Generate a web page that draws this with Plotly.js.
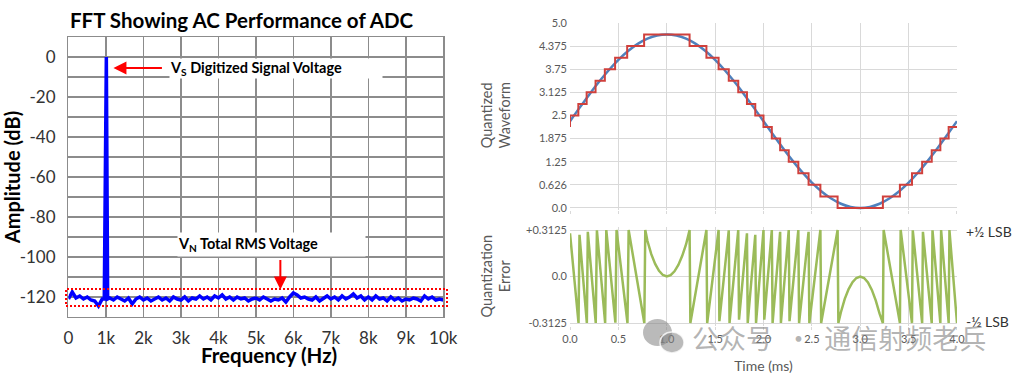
<!DOCTYPE html>
<html><head><meta charset="utf-8">
<script src="https://cdn.plot.ly/plotly-3.0.1.min.js"></script>
<style>html,body{margin:0;padding:0;background:#fff;} #chart{width:1013px;height:378px;}</style>
</head><body><div id="chart"></div>
<script>
// ---------- FFT (left) ----------
const fftFreqHz = [0,100,200,300,400,500,600,700,800,900,955,990,1010,1045,
  1100,1200,1300,1400,1500,1600,1700,1800,1900,2000,2100,2200,2300,2400,2500,2600,2700,2800,2900,3000,
  3100,3200,3300,3400,3500,3600,3700,3800,3900,4000,4100,4200,4300,4400,4500,4600,4700,4800,4900,5000,
  5100,5200,5300,5400,5500,5600,5700,5800,5900,6000,6100,6200,6300,6400,6500,6600,6700,6800,6900,7000,
  7100,7200,7300,7400,7500,7600,7700,7800,7900,8000,8100,8200,8300,8400,8500,8600,8700,8800,8900,9000,
  9100,9200,9300,9400,9500,9600,9700,9800,9900,10000];
const fftAmpDb = [-121,-117.5,-120.5,-119.5,-121,-120,-121.5,-122,-124.5,-121,-121,0,0,-121,
  -120.5,-121.5,-120,-121,-122,-120.5,-123.5,-121,-120,-121.5,-120.5,-122,-121,-120,-121.5,-120.5,-122,-120,-121,-121.5,
  -120,-122,-120.5,-121,-119.5,-121,-120,-121.5,-119.5,-120.5,-119,-121,-120,-121.5,-120,-121,-120.5,-122,-121,-120.5,
  -121.5,-120,-121,-122,-121,-121.5,-120.5,-122.5,-120,-118,-119,-120.5,-120,-121,-121.5,-120,-122,-120.5,-119.5,-121,
  -120,-121.5,-119.5,-121,-120,-118.5,-120.5,-119.5,-121.5,-120,-121.5,-119.5,-121,-120.5,-122,-120,-121.5,-120.5,-122,-121,
  -121.5,-120.5,-121,-122,-119.5,-121,-120,-121.5,-121,-121.5];
const fftTickVals = [0,1000,2000,3000,4000,5000,6000,7000,8000,9000,10000];
const fftTickText = ['0','1k','2k','3k','4k','5k','6k','7k','8k','9k','10k'];
const dbTickVals = [-130,-120,-110,-100,-90,-80,-70,-60,-50,-40,-30,-20,-10,0,10];
const dbTickText = ['','-120','','-100','','-80','','-60','','-40','','-20','','0',''];

// ---------- Quantized waveform (top right) ----------
const sineT = [0,0.1,0.2,0.3,0.4,0.5,0.6,0.7,0.8,0.9,1.0,1.1,1.2,1.3,1.4,1.5,1.6,1.7,1.8,1.9,2.0,
  2.1,2.2,2.3,2.4,2.5,2.6,2.7,2.8,2.9,3.0,3.1,3.2,3.3,3.4,3.5,3.6,3.7,3.8,3.9,4.0];
const sineV = [2.345,2.712,3.070,3.410,3.723,4.003,4.242,4.434,4.575,4.661,4.690,4.661,4.575,4.434,4.242,4.003,3.723,3.410,3.070,2.712,2.345,
  1.978,1.620,1.280,0.967,0.687,0.448,0.256,0.115,0.029,0.000,0.029,0.115,0.256,0.448,0.687,0.967,1.280,1.620,1.978,2.345];
const stepT = [0,0,0.086,0.172,0.264,0.360,0.466,0.591,0.766,1.236,1.410,1.536,1.641,1.739,1.829,1.915,2.000,2.086,2.172,2.261,2.360,2.466,2.588,2.766,
  3.234,3.410,3.535,3.640,3.739,3.828,3.914,4.0];
const stepV = [2.1875,2.5,2.8125,3.125,3.4375,3.75,4.0625,4.375,4.6875,4.375,4.0625,3.75,3.4375,3.125,2.8125,2.5,2.1875,1.875,1.5625,1.25,0.9375,0.625,0.3125,0,
  0.3125,0.625,0.9375,1.25,1.5625,1.875,2.1875,2.1875];
const waveTickVals = [0,0.625,1.25,1.875,2.5,3.125,3.75,4.375,5.0];
const waveTickText = ['0.0','0.626','1.25','1.875','2.5','3.125','3.75','4.375','5.0'];

// ---------- Quantization error (bottom right) ----------
const errT = [0.000,0.088,0.098,0.174,0.184,0.266,0.278,0.363,0.375,0.469,0.481,0.594,0.606,0.768,0.778,
  0.80,0.84,0.88,0.92,0.96,1.00,1.04,1.08,1.12,1.16,1.20,1.236,
  1.244,1.410,1.418,1.536,1.544,1.641,1.649,1.739,1.747,1.829,1.837,1.915,1.923,2.000,2.008,2.086,2.094,2.172,2.180,
  2.261,2.269,2.360,2.368,2.466,2.474,2.588,2.596,2.766,2.774,
  2.80,2.84,2.88,2.92,2.96,3.00,3.04,3.08,3.12,3.16,3.20,3.234,
  3.242,3.410,3.418,3.535,3.543,3.640,3.648,3.739,3.747,3.828,3.836,3.914,3.922,4.000];
const errV = [0.29,-0.3125,0.28,-0.3125,0.30,-0.3125,0.31,-0.3125,0.3125,-0.31,0.3125,-0.3125,0.3125,-0.3125,0.3125,
  0.24,0.15,0.085,0.038,0.01,0.0,0.009,0.035,0.078,0.139,0.217,0.3125,
  -0.3125,0.3125,-0.3125,0.3125,-0.30,0.31,-0.3125,0.3125,-0.29,0.29,-0.3125,0.28,-0.3125,0.3125,-0.29,0.3125,-0.3125,0.30,-0.3125,
  0.3125,-0.30,0.3125,-0.3125,0.30,-0.3125,0.3125,-0.3125,0.3125,-0.3125,
  -0.24,-0.15,-0.085,-0.038,-0.01,0.0,-0.01,-0.04,-0.09,-0.16,-0.25,-0.3125,
  0.3125,-0.3125,0.3125,-0.3125,0.31,-0.3125,0.30,-0.3125,0.31,-0.3125,0.3125,-0.3125,0.3125,-0.3125];
const timeTickVals = [0,0.5,1.0,1.5,2.0,2.5,3.0,3.5,4.0];
const timeTickText = ['0.0','0.5','1.0','1.5','2.0','2.5','3.0','3.5','4.0'];
const errTickVals = [-0.3125,0,0.3125];
const errTickText = ['-0.3125','0.0','+0.3125'];

const F = 'Lato, "Open Sans", sans-serif';
const gridL = '#8c8c8c';
const gridR = '#d9d9d9';
const grayTxt = '#595959';

const traces = [
  {x: fftFreqHz, y: fftAmpDb, xaxis:'x', yaxis:'y', type:'scatter', mode:'lines',
   line:{color:'#0000ff', width:3.5}, hoverinfo:'skip'},
  {x: sineT, y: sineV, xaxis:'x2', yaxis:'y2', type:'scatter', mode:'lines',
   line:{color:'#4f81bd', width:2.5, shape:'spline'}},
  {x: stepT, y: stepV, xaxis:'x2', yaxis:'y2', type:'scatter', mode:'lines',
   line:{color:'#d0403c', width:2, shape:'hv'}},
  {x: errT, y: errV, xaxis:'x3', yaxis:'y3', type:'scatter', mode:'lines',
   line:{color:'#9bbb59', width:2.5}}
];

const layout = {
  width:1013, height:378, margin:{l:0,r:0,t:0,b:0},
  paper_bgcolor:'#fff', plot_bgcolor:'#fff', showlegend:false,
  font:{family:F},
  xaxis:{domain:[0.0676,0.4376], range:[0,10000], anchor:'y',
    tickvals:fftTickVals, ticktext:fftTickText, ticks:'', ticklabelstandoff:5,
    showgrid:true, gridcolor:gridL, gridwidth:1.5, zeroline:false,
    showline:true, linecolor:gridL, linewidth:1.5, mirror:true,
    tickfont:{family:F, size:17, color:'#333'}},
  yaxis:{domain:[0.1614,0.9021], range:[-130,10], anchor:'x',
    tickvals:dbTickVals, ticktext:dbTickText, ticks:'', ticklabelstandoff:8,
    showgrid:true, gridcolor:gridL, gridwidth:1.5, zeroline:false,
    showline:true, linecolor:gridL, linewidth:1.5, mirror:true,
    tickfont:{family:F, size:17, color:'#333'},
    title:{text:'<b>Amplitude (dB)</b>', font:{family:F, size:20, color:'#000'}, standoff:0}},
  xaxis2:{domain:[0.5627,0.9447], range:[0,4], anchor:'y2',
    tickvals:timeTickVals, showticklabels:false, ticks:'outside', ticklen:3, tickcolor:gridR,
    showgrid:true, gridcolor:gridR, gridwidth:1, zeroline:false, showline:false},
  yaxis2:{domain:[0.4439,0.9392], range:[-0.06,5], anchor:'x2',
    tickvals:waveTickVals, ticktext:waveTickText, ticks:'', ticklabelstandoff:2,
    showgrid:true, gridcolor:gridR, gridwidth:1, zeroline:false, showline:false,
    tickfont:{family:F, size:11, color:grayTxt}},
  xaxis3:{domain:[0.5627,0.9447], range:[0,4], anchor:'y3',
    tickvals:timeTickVals, ticktext:timeTickText, ticks:'outside', ticklen:3, tickcolor:gridR,
    showgrid:true, gridcolor:gridR, gridwidth:1, zeroline:false, showline:false,
    tickfont:{family:F, size:11, color:grayTxt},
    title:{text:'Time (ms)', font:{family:F, size:14, color:grayTxt}, standoff:17}},
  yaxis3:{domain:[0.1386,0.3984], range:[-0.33,0.33], anchor:'x3',
    tickvals:errTickVals, ticktext:errTickText, ticks:'', ticklabelstandoff:2,
    showgrid:true, gridcolor:gridR, gridwidth:1, zeroline:false, showline:false,
    tickfont:{family:F, size:11, color:grayTxt}},
  shapes:[
    {type:'rect', xref:'paper', yref:'y', x0:66/1013, x1:447/1013, y0:-124.5, y1:-116,
     line:{color:'#ff0000', width:2, dash:'2px,2px'}, fillcolor:'rgba(0,0,0,0)', layer:'above'},
    {type:'circle', xref:'paper', yref:'paper', x0:643/1013, x1:672/1013, y0:1-346/378, y1:1-319/378,
     fillcolor:'rgba(130,130,130,0.55)', line:{width:0}},
    {type:'circle', xref:'paper', yref:'paper', x0:660/1013, x1:684/1013, y0:1-353/378, y1:1-332/378,
     fillcolor:'rgba(130,130,130,0.55)', line:{color:'rgba(255,255,255,0.8)', width:1.5}}
  ],
  annotations:[
    {xref:'paper', yref:'paper', x:241/1013, y:1-20/378, xanchor:'center', yanchor:'middle',
     text:'<b>FFT Showing AC Performance of ADC</b>', showarrow:false, font:{family:F, size:20.5, color:'#000'}},
    {xref:'paper', yref:'paper', x:269/1013, y:1-355/378, xanchor:'center', yanchor:'middle',
     text:'<b>Frequency (Hz)</b>', showarrow:false, font:{family:F, size:20.5, color:'#000'}},
    {xref:'x', yref:'y', x:5547, y:-5.6, width:212, height:19, align:'left', bgcolor:'#fff', borderpad:0,
     text:'<b>V<sub>S</sub> Digitized Signal Voltage</b>', showarrow:false, font:{family:F, size:14.5, color:'#000'}},
    {xref:'x', yref:'y', x:1200, y:-5.5, axref:'x', ayref:'y', ax:2533, ay:-5.5, text:'',
     showarrow:true, arrowhead:2, arrowsize:1.3, arrowwidth:2, arrowcolor:'#ff0000'},
    {xref:'x', yref:'y', x:5427, y:-93.75, width:187, height:23, align:'left', bgcolor:'#fff', borderpad:0,
     text:'<b>V<sub>N</sub> Total RMS Voltage</b>', showarrow:false, font:{family:F, size:14.5, color:'#000'}},
    {xref:'x', yref:'y', x:5653, y:-116.2, axref:'x', ayref:'y', ax:5653, ay:-100.7, text:'',
     showarrow:true, arrowhead:2, arrowsize:1.3, arrowwidth:2, arrowcolor:'#ff0000'},
    {xref:'paper', yref:'paper', x:495/1013, y:1-115.5/378, xanchor:'center', yanchor:'middle', textangle:-90,
     text:'Quantized<br>Waveform', showarrow:false, font:{family:F, size:14.5, color:grayTxt}},
    {xref:'paper', yref:'paper', x:495/1013, y:1-276.5/378, xanchor:'center', yanchor:'middle', textangle:-90,
     text:'Quantization<br>Error', showarrow:false, font:{family:F, size:14.5, color:grayTxt}},
    {xref:'paper', yref:'paper', x:964/1013, y:1-231/378, xanchor:'left', yanchor:'middle',
     text:'+½ LSB', showarrow:false, font:{family:F, size:14, color:'#333'}},
    {xref:'paper', yref:'paper', x:964/1013, y:1-321/378, xanchor:'left', yanchor:'middle',
     text:'-½ LSB', showarrow:false, font:{family:F, size:14, color:'#333'}},
    {xref:'paper', yref:'paper', x:690/1013, y:1-337/378, xanchor:'left', yanchor:'middle',
     text:'公众号\u00a0\u00a0·\u00a0\u00a0通信射频老兵', showarrow:false,
     font:{family:'"Noto Sans CJK SC", sans-serif', size:27, color:'rgba(130,130,130,0.6)'}}
  ]
};

Plotly.newPlot('chart', traces, layout, {staticPlot:true, displayModeBar:false});
</script></body></html>
